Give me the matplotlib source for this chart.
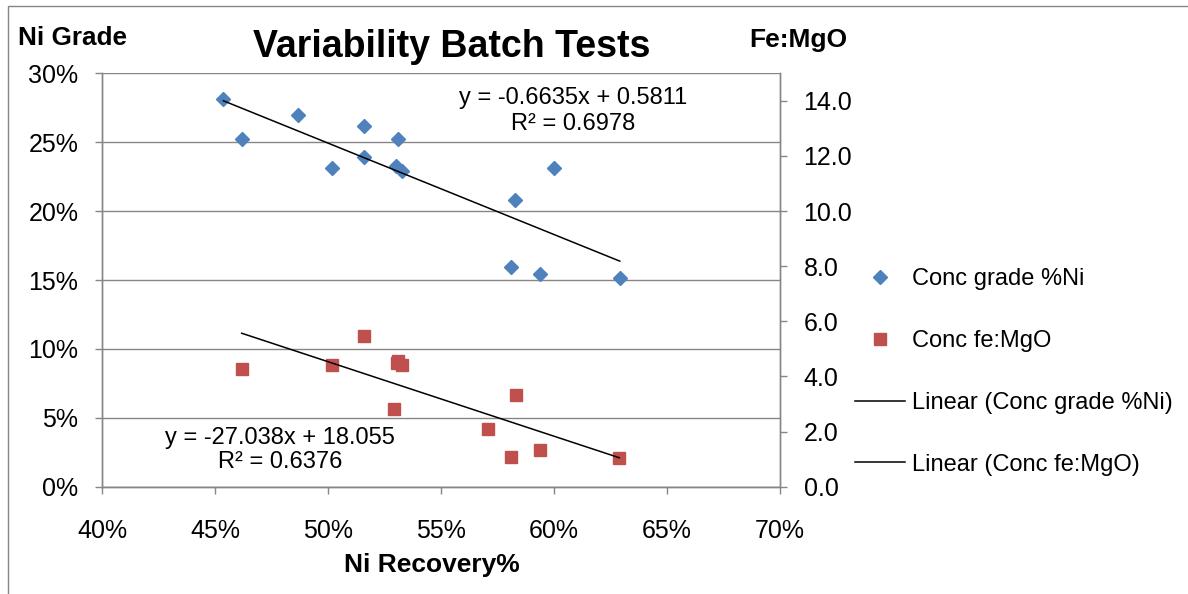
import numpy as np
import matplotlib
matplotlib.use('Agg')
import matplotlib.pyplot as plt
from matplotlib.ticker import PercentFormatter, FormatStrFormatter
from matplotlib.lines import Line2D
from matplotlib.patches import Rectangle

plt.rcParams['font.family'] = ['Liberation Sans', 'DejaVu Sans']

# Ni recovery (fraction) vs concentrate grade %Ni (fraction)
grade_x = [0.4537, 0.4618, 0.4869, 0.5019, 0.5158, 0.5158, 0.5310, 0.5301, 0.5327,
           0.6000, 0.5829, 0.5810, 0.5938, 0.6291]
grade_y = [0.2814, 0.2521, 0.2695, 0.2313, 0.2616, 0.2393, 0.2521, 0.2328, 0.2289,
           0.2313, 0.2083, 0.1595, 0.1542, 0.1513]

# Ni recovery (fraction) vs concentrate Fe:MgO
femgo_x = [0.4618, 0.5158, 0.5019, 0.5304, 0.5310, 0.5327, 0.5290, 0.5830, 0.5709,
           0.5808, 0.5939, 0.6289]
femgo_y = [4.28, 5.48, 4.42, 4.50, 4.55, 4.42, 2.83, 3.33, 2.09, 1.09, 1.33, 1.03]

# trendline coefficients as printed on the chart
grade_fit = (-0.6635, 0.5811, 0.6978)
femgo_fit = (-27.038, 18.055, 0.6376)

x_ticks = [0.40, 0.45, 0.50, 0.55, 0.60, 0.65, 0.70]
left_ticks = [0.0, 0.05, 0.10, 0.15, 0.20, 0.25, 0.30]
right_ticks = [0, 2, 4, 6, 8, 10, 12, 14]

blue = '#4F81BD'
red = '#C0504D'
gray = '#868686'

W, H = 1188, 594
fig = plt.figure(figsize=(W / 100, H / 100), dpi=100)
ax = fig.add_axes([102 / W, 1 - 486.7 / H, (780 - 102) / W, (486.7 - 73.3) / H])
ax2 = ax.twinx()

ax.set_xlim(0.40, 0.70)
ax.set_ylim(0, 0.30)
ax2.set_ylim(0, 15)

ax.set_xticks(x_ticks)
ax.set_yticks(left_ticks)
ax2.set_yticks(right_ticks)
ax.xaxis.set_major_formatter(PercentFormatter(1, decimals=0))
ax.yaxis.set_major_formatter(PercentFormatter(1, decimals=0))
ax2.yaxis.set_major_formatter(FormatStrFormatter('%.1f'))

ax.grid(axis='y', color=gray, linewidth=1.0)
ax.set_axisbelow(True)
for a in (ax, ax2):
    for s in a.spines.values():
        s.set_color(gray)
        s.set_linewidth(1.0)
    a.spines['top'].set_visible(False)
ax.tick_params(axis='both', colors=gray, labelcolor='black', labelsize=18, length=5, width=1.0)
ax.tick_params(axis='y', pad=12)
ax.tick_params(axis='x', pad=18)
ax2.tick_params(axis='y', colors=gray, labelcolor='black', labelsize=18, length=5, width=1.0, pad=12)

# scatter points
ax.plot(grade_x, grade_y, linestyle='none', marker='D', markersize=7.5,
        color=blue, zorder=3)
ax2.plot(femgo_x, femgo_y, linestyle='none', marker='s', markersize=8.5,
         color=red, zorder=3)

# linear trendlines
gx = np.array([min(grade_x), max(grade_x)])
ax.plot(gx, grade_fit[0] * gx + grade_fit[1], color='black', linewidth=1.1, zorder=4)
fx = np.array([min(femgo_x), max(femgo_x)])
ax2.plot(fx, femgo_fit[0] * fx + femgo_fit[1], color='black', linewidth=1.1, zorder=4)

fig.text(573 / W, 1 - 111 / H,
         'y = %.4fx + %.4f\nR² = %.4f' % grade_fit,
         ha='center', va='center', fontsize=17, linespacing=1.2)
fig.text(280 / W, 1 - 450 / H,
         'y = %.3fx + %.3f\nR² = %.4f' % femgo_fit,
         ha='center', va='center', fontsize=17, linespacing=1.15)

fig.text(452 / W, 1 - 47 / H, 'Variability Batch Tests', ha='center', va='center',
         fontsize=27, fontweight='bold')
fig.text(18 / W, 1 - 38 / H, 'Ni Grade', ha='left', va='center',
         fontsize=18.8, fontweight='bold')
fig.text(749 / W, 1 - 40 / H, 'Fe:MgO', ha='left', va='center',
         fontsize=19, fontweight='bold')
fig.text(432 / W, 1 - 565 / H, 'Ni Recovery%', ha='center', va='center',
         fontsize=19, fontweight='bold')

handles = [
    Line2D([], [], linestyle='none', marker='D', markersize=7.5, color=blue),
    Line2D([], [], linestyle='none', marker='s', markersize=8.5, color=red),
    Line2D([], [], color='black', linewidth=1.1),
    Line2D([], [], color='black', linewidth=1.1),
]
labels = ['Conc grade %Ni', 'Conc fe:MgO', 'Linear (Conc grade %Ni)', 'Linear (Conc fe:MgO)']
fig.legend(handles, labels, loc='center left', bbox_to_anchor=(855 / W, 1 - 372 / H),
           frameon=False, fontsize=17, handlelength=2.1, handletextpad=0.3,
           labelspacing=1.68, borderpad=0, borderaxespad=0)

# outer chart frame
fig.patches.append(Rectangle((8 / W, -0.1), 1.2, 1.1 - 5.5 / H, transform=fig.transFigure,
                             fill=False, edgecolor=gray, linewidth=1.0))

fig.savefig('out.png', dpi=100)
